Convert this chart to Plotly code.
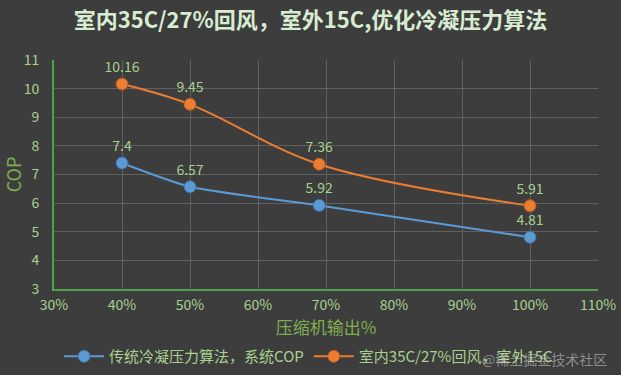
import plotly.graph_objects as go

x_vals = [0.40, 0.50, 0.69, 1.00]
cop_traditional = [7.4, 6.57, 5.92, 4.81]
cop_optimized = [10.16, 9.45, 7.36, 5.91]
name_traditional = "传统冷凝压力算法，系统COP"
name_optimized = "室内35C/27%回风，室外15C"
title_text = "<b>室内35C/27%回风，室外15C,优化冷凝压力算法</b>"
x_title = "压缩机输出%"
y_title = "COP"
watermark = "@稀土掘金技术社区"

label_color = "#a9d18e"
bg = "#3d3d3d"
font_family = "Noto Sans CJK SC, Noto Sans, sans-serif"

fig = go.Figure()
fig.add_trace(go.Scatter(
    x=x_vals, y=cop_traditional, name=name_traditional,
    mode="lines+markers+text",
    line=dict(color="#5b9bd5", width=2, shape="spline", smoothing=0.6),
    marker=dict(size=12, color="#5b9bd5", line=dict(color="#41719c", width=1)),
    text=[str(v) for v in cop_traditional], textposition="top center",
    textfont=dict(color=label_color, size=14),
))
fig.add_trace(go.Scatter(
    x=x_vals, y=cop_optimized, name=name_optimized,
    mode="lines+markers+text",
    line=dict(color="#ed7d31", width=2, shape="spline", smoothing=1.0),
    marker=dict(size=12, color="#ed7d31", line=dict(color="#ae5a21", width=1)),
    text=[str(v) for v in cop_optimized], textposition="top center",
    textfont=dict(color=label_color, size=14),
))

fig.update_layout(
    width=621, height=375,
    paper_bgcolor=bg, plot_bgcolor=bg,
    margin=dict(l=54, r=23, t=60, b=86, autoexpand=False),
    font=dict(family=font_family, color=label_color),
    title=dict(text=title_text, x=0.5, xanchor="center", y=0.947, yanchor="middle",
               font=dict(size=22, color="#d8ecd2", family=font_family)),
    xaxis=dict(range=[0.30, 1.10], dtick=0.1, tickformat=".0%",
               showgrid=True, gridcolor="#606060", gridwidth=1,
               showline=True, linecolor="#4ea24e", linewidth=2,
               zeroline=False, ticks="outside", ticklen=2, tickcolor="rgba(0,0,0,0)",
               automargin=False,
               tickfont=dict(size=14, color=label_color),
               title=dict(text=x_title, font=dict(size=17, color="#7fae4f"), standoff=2)),
    yaxis=dict(range=[3, 11], dtick=1,
               showgrid=True, gridcolor="#606060", gridwidth=1,
               showline=True, linecolor="#4ea24e", linewidth=2,
               zeroline=False, ticks="outside", ticklen=10, tickcolor="rgba(0,0,0,0)",
               automargin=False,
               tickfont=dict(size=14, color=label_color),
               title=dict(text=y_title, font=dict(size=18, color="#7fae4f"), standoff=4)),
    legend=dict(orientation="h", x=0.468, xanchor="center", y=-0.223, yanchor="top",
                font=dict(size=15, color=label_color), bgcolor="rgba(0,0,0,0)",
                itemwidth=40),
    showlegend=True,
)

fig.add_annotation(text=watermark, xref="paper", yref="paper",
                   x=1.02, y=-0.253, xanchor="right", yanchor="top", showarrow=False,
                   font=dict(size=14, color="rgba(210,210,210,0.55)"))

fig.write_html("out.html", config={"displayModeBar": False},
               post_script="document.body.style.margin='0';document.body.style.background='%s';" % bg)
